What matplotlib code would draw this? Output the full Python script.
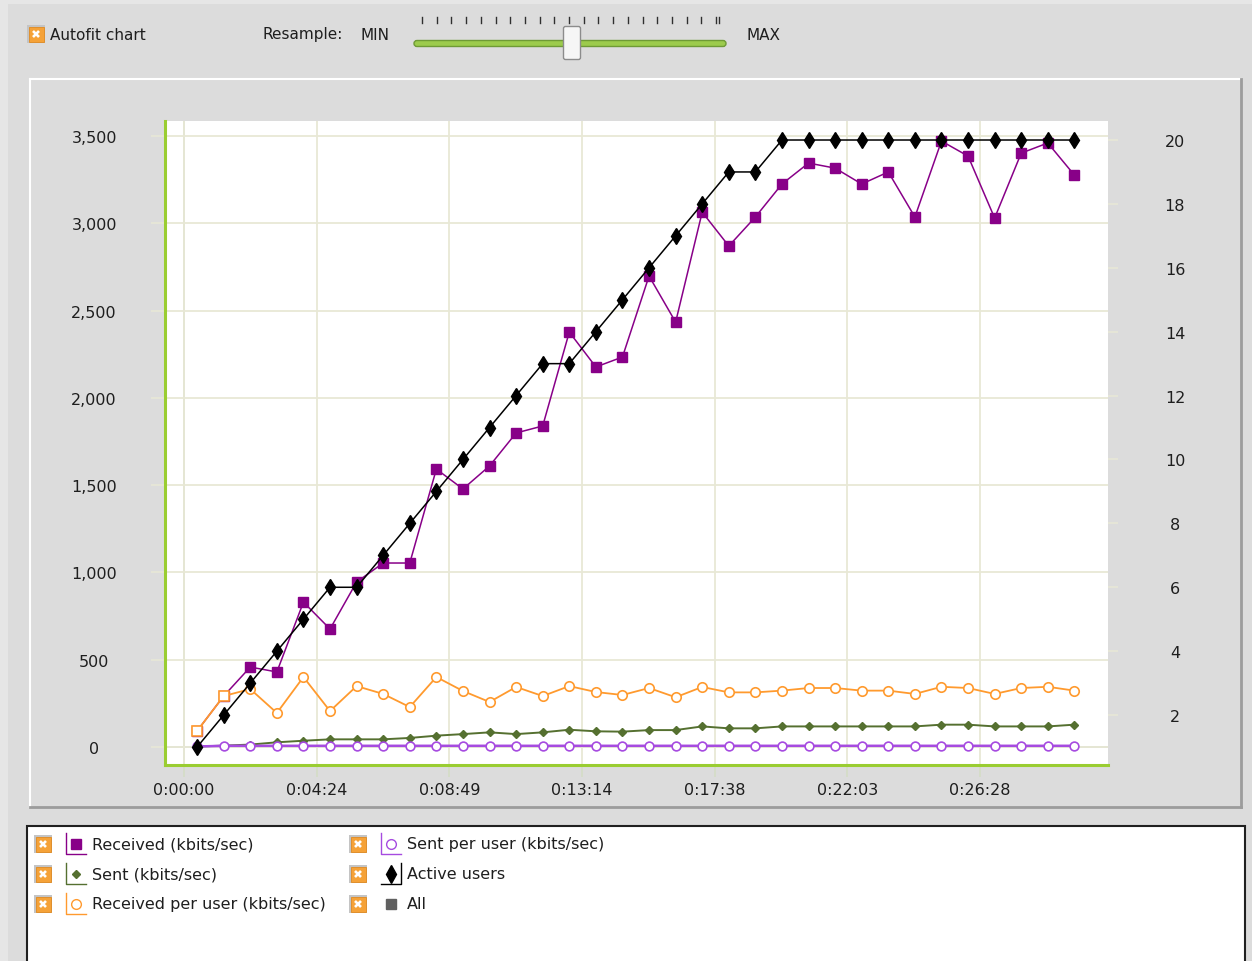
import matplotlib
matplotlib.use("Agg")
import matplotlib.pyplot as plt
from matplotlib.patches import Rectangle, FancyBboxPatch

plt.rcParams['font.family'] = ['DejaVu Sans']

# sample times (seconds since start)
times = [26, 79, 132, 185, 238, 291, 344, 397, 450, 503, 556, 609, 662, 715, 768, 821, 874,
         927, 980, 1033, 1086, 1139, 1192, 1245, 1298, 1351, 1404, 1457, 1510, 1563, 1616, 1669,
         1722, 1775]

received = [92, 292, 458, 430, 830, 676, 945, 1054, 1054, 1592, 1478, 1610, 1799, 1839, 2377,
            2177, 2234, 2698, 2434, 3064, 2870, 3036, 3225, 3345, 3316, 3225, 3294, 3036, 3471,
            3385, 3030, 3402, 3460, 3276]
sent = [3, 8, 14, 27, 36, 44, 44, 44, 52, 65, 74, 84, 74, 84, 99, 90, 88, 97, 97, 118, 107, 107,
        118, 118, 118, 118, 118, 118, 128, 128, 118, 118, 118, 128]
received_per_user = [92, 292, 332, 195, 401, 206, 349, 304, 229, 401, 321, 258, 344, 292, 349,
                     315, 298, 338, 285, 344, 313, 313, 323, 338, 338, 323, 323, 304, 345, 338,
                     304, 338, 345, 323]
sent_per_user = [3, 7, 7, 7, 7, 7, 7, 7, 7, 7, 7, 7, 7, 7, 7, 7, 7, 7, 7, 7, 7, 7, 7, 7, 7, 7, 7,
                 7, 7, 7, 7, 7, 7, 7]
active_users = [1, 2, 3, 4, 5, 6, 6, 7, 8, 9, 10, 11, 12, 13, 13, 14, 15, 16, 17, 18, 19, 19, 20,
                20, 20, 20, 20, 20, 20, 20, 20, 20, 20, 20]

x_ticks = [0, 264.5, 529, 793.5, 1058, 1322.5, 1587]
x_labels = ['0:00:00', '0:04:24', '0:08:49', '0:13:14', '0:17:38', '0:22:03', '0:26:28']
left_ticks = [0, 500, 1000, 1500, 2000, 2500, 3000, 3500]
left_labels = ['0', '500', '1,000', '1,500', '2,000', '2,500', '3,000', '3,500']
right_ticks = [2, 4, 6, 8, 10, 12, 14, 16, 18, 20]

names = ['Received (kbits/sec)', 'Sent (kbits/sec)', 'Received per user (kbits/sec)',
         'Sent per user (kbits/sec)', 'Active users', 'All']
colors = ['#880088', '#557030', '#FF9A2E', '#A64BE0', '#000000', '#606060']

W, H = 1252, 962
GRID = '#E8E8D6'
TEXT = '#1E1E1E'
fig = plt.figure(figsize=(W / 100, H / 100), dpi=100, facecolor='#E6E6E6')

# window background, drawn in pixel coordinates
bg = fig.add_axes([0, 0, 1, 1])
bg.set_xlim(0, W)
bg.set_ylim(H, 0)
bg.axis('off')
bg.add_patch(Rectangle((8, 5), W, H, fc='#DCDCDC', ec='none'))

# chart panel with a raised border
bg.add_patch(Rectangle((30, 80), 1211, 728, fc='#DCDCDC', ec='none'))
bg.plot([30, 1241], [80, 80], color='white', lw=1.5)
bg.plot([30, 30], [80, 808], color='white', lw=1.5)
bg.plot([1241, 1241], [80, 808], color='#9C9C9C', lw=2)
bg.plot([30, 1241], [808, 808], color='#9C9C9C', lw=2)


def checkbox(x, y):
    bg.add_patch(Rectangle((x - 9, y - 9), 18, 18, fc='#C4C4C4', ec='none'))
    bg.add_patch(Rectangle((x - 7.5, y - 7.5), 15, 15, fc='#F5A238', ec='#E08A20', lw=0.6))
    bg.plot([x - 3, x + 3], [y - 3, y + 3], color='white', lw=1.9, solid_capstyle='butt')
    bg.plot([x - 3, x + 3], [y + 3, y - 3], color='white', lw=1.9, solid_capstyle='butt')


# toolbar
checkbox(36, 35)
bg.text(50, 35, 'Autofit chart', fontsize=11, color=TEXT, va='center')
bg.text(262, 35, 'Resample:', fontsize=11, color=TEXT, va='center')
bg.text(361, 35, 'MIN', fontsize=11, color=TEXT, va='center')
bg.text(746, 35, 'MAX', fontsize=11, color=TEXT, va='center')
bg.add_patch(FancyBboxPatch((414, 41.5), 312, 6, boxstyle='round,pad=0,rounding_size=3',
                            fc='#9CCB4C', ec='#6E9A35', lw=1))
for k in range(21):
    tx = 422 + k * 14.7
    bg.plot([tx, tx], [18, 23.5], color='#303030', lw=1)
bg.plot([719, 719], [18, 23.5], color='#303030', lw=1)
bg.add_patch(FancyBboxPatch((563.5, 27.5), 17, 33, boxstyle='round,pad=0,rounding_size=2',
                            fc='#F6F6F6', ec='#8C8C8C', lw=1))

# plot area
ax = fig.add_axes([165 / W, (H - 766) / H, 943 / W, 644 / H])
ax.set_facecolor('white')
ax.set_xlim(-38, 1842)
ax.set_ylim(-103, 3586)

ax.grid(True, color=GRID, lw=1.3)
ax.axhline(0, color='#C6D6C6', lw=1.3, zorder=1)
ax.axvline(0, color='#C6D6C6', lw=1.3, zorder=1)

ax.plot(times, received, color=colors[0], lw=1.1, marker='s', ms=6.5,
        mfc=colors[0], mec=colors[0], zorder=3)
ax.plot(times, sent, color=colors[1], lw=1.4, marker='D', ms=4.2,
        mfc=colors[1], mec=colors[1], zorder=3)
ax.plot(times, received_per_user, color=colors[2], lw=1.3, marker='o', ms=6.8,
        mfc='white', mec=colors[2], mew=1.2, markevery=list(range(2, len(times))), zorder=4)
ax.plot(times[:2], received_per_user[:2], ls='none', marker='s', ms=6.6,
        mfc='white', mec=colors[2], mew=1.2, zorder=4)
ax.plot(times, sent_per_user, color=colors[3], lw=1.8, marker='o', ms=6.3,
        mfc='white', mec=colors[3], mew=1.2, zorder=4)

for side in ['top', 'right']:
    ax.spines[side].set_visible(False)
for side in ['left', 'bottom']:
    ax.spines[side].set_color('#9ACD32')
    ax.spines[side].set_linewidth(2.2)

ax.set_xticks(x_ticks, labels=x_labels)
ax.set_yticks(left_ticks, labels=left_labels, ha='center')
ax.tick_params(axis='x', length=8.5, width=1.2, color='#D4DCC6', pad=4,
               labelsize=11.5, labelcolor=TEXT)
ax.tick_params(axis='y', length=10, width=1.2, color=GRID, pad=41,
               labelsize=11.5, labelcolor=TEXT)

# active users on the right axis
ax2 = ax.twinx()
ax2.set_ylim(0.437, 20.595)
ax2.plot(times, active_users, color=colors[4], lw=1.1, marker='d', ms=8,
         mfc=colors[4], mec=colors[4])
for side in ['top', 'right', 'left', 'bottom']:
    ax2.spines[side].set_visible(False)
ax2.set_yticks(right_ticks, labels=[str(v) for v in right_ticks], ha='center')
ax2.tick_params(axis='y', length=7.2, width=1.2, color=GRID, pad=41,
                labelsize=11.5, labelcolor=TEXT)
ax.set_zorder(2)
ax2.set_zorder(3)

# legend panel
bg.add_patch(Rectangle((27, 827), 1218, 150, fc='white', ec='#202020', lw=1.5))
rows = [845, 875, 905]
slots = [(0, 0), (0, 1), (0, 2), (1, 0), (1, 1), (1, 2)]
for i, (col, row) in enumerate(slots):
    cx = [43, 358][col]
    ix = [66, 381][col]
    y = rows[row]
    checkbox(cx, y)
    c = colors[i]
    if i < 4:
        bg.plot([ix, ix, ix + 20], [y - 11, y + 10, y + 10], color=c, lw=1)
    elif i == 4:
        bg.plot([ix, ix + 20, ix + 20], [y + 10, y + 10, y - 11], color=c, lw=1)
    mk = {0: ('s', c, 7.5), 1: ('D', c, 4.5), 2: ('o', 'white', 7), 3: ('o', 'white', 7),
          4: ('d', c, 9), 5: ('s', c, 6.5)}[i]
    bg.plot([ix + 10], [y], ls='none', marker=mk[0], mfc=mk[1], mec=c, ms=mk[2], mew=1)
    bg.text([92, 407][col], y, names[i], fontsize=11.5, color=TEXT, va='center')

fig.savefig('out.png', dpi=100, facecolor=fig.get_facecolor())
